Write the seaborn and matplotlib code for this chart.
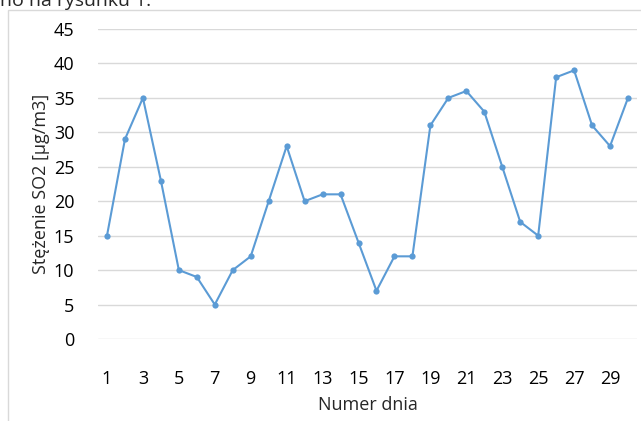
import matplotlib
matplotlib.use("Agg")
import matplotlib.pyplot as plt
import seaborn as sns
import pandas as pd
from matplotlib.patches import Rectangle

# data
dni = list(range(1, 31))
so2 = [15, 29, 35, 23, 10, 9, 5, 10, 12, 20, 28, 20, 21, 21, 14,
       7, 12, 12, 31, 35, 36, 33, 25, 17, 15, 38, 39, 31, 28, 35]
y_ticks = [0, 5, 10, 15, 20, 25, 30, 35, 40, 45]
x_ticks = list(range(1, 30, 2))

df = pd.DataFrame({"dzien": dni, "so2": so2})

sns.set_style("white")
plt.rcParams["font.family"] = ["Open Sans", "DejaVu Sans"]

fig = plt.figure(figsize=(6.41, 4.21), dpi=100)
ax = fig.add_axes([98 / 641, 1 - 339 / 421, 539 / 641, 310 / 421])

sns.lineplot(data=df, x="dzien", y="so2", ax=ax, color="#5B9BD5",
             linewidth=1.5, marker="o", markersize=4.5, markeredgewidth=0)

ax.set_xlim(0.5, 30.5)
ax.set_ylim(0, 45)
ax.set_yticks(y_ticks)
ax.set_xticks(x_ticks)
ax.tick_params(axis="both", length=0, labelsize=13, colors="black")
ax.tick_params(axis="x", pad=22)
ax.tick_params(axis="y", pad=17)
ax.yaxis.grid(True, color="#d9d9d9", linewidth=1)
ax.set_axisbelow(True)
for s in ax.spines.values():
    s.set_visible(False)

ax.set_xlabel("Numer dnia", fontsize=13, labelpad=6)
ax.set_ylabel("Stężenie SO2 [µg/m3]", fontsize=13, labelpad=3)

# chart border (Excel-style frame)
fig.patches.append(Rectangle((8 / 641, -0.01), 1.0, 1 - 10 / 421 + 0.01,
                             transform=fig.transFigure, fill=False,
                             edgecolor="#d9d9d9", linewidth=1))

# cut-off text from the page above
fig.text(0.0, 1 - 1 / 421, "no na rysunku 1.", fontsize=14, va="center", ha="left")

fig.savefig("out.png", dpi=100)
